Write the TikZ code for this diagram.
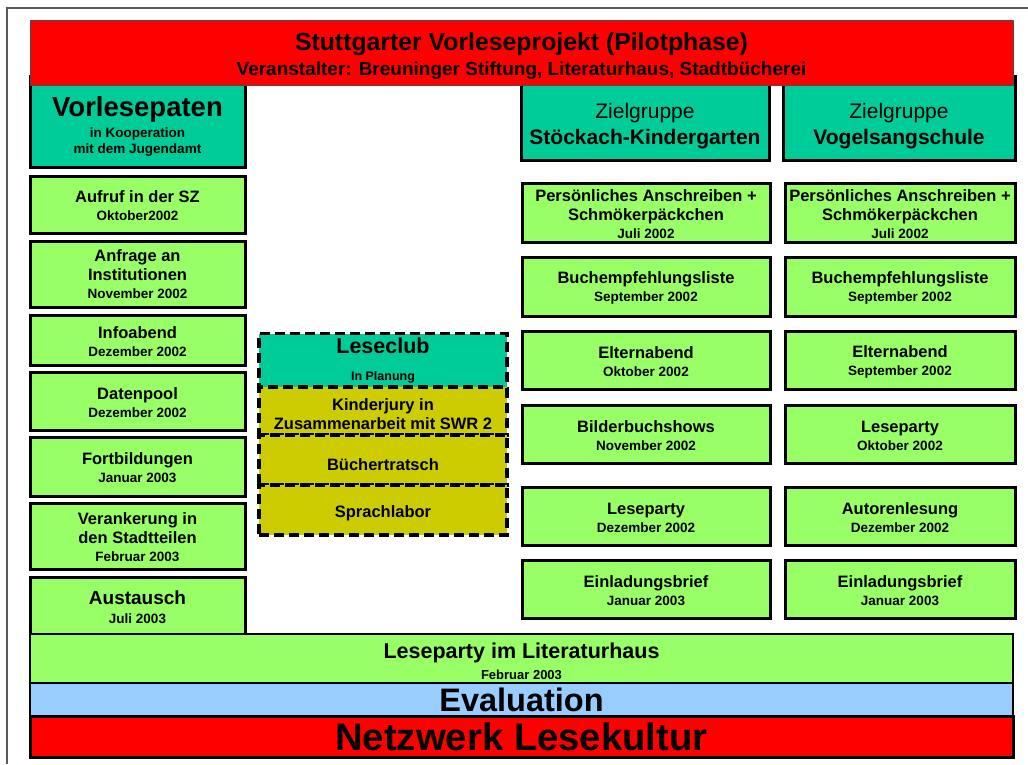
\documentclass[tikz,border=0pt]{standalone}
\usepackage{fontspec}
\setmainfont{Liberation Sans}
\definecolor{lgreen}{HTML}{99FF66}
\definecolor{tealc}{HTML}{00CC99}
\definecolor{olivec}{HTML}{CCCC00}
\definecolor{lblue}{HTML}{99CCFF}
\definecolor{redc}{HTML}{FF0000}
\newcommand\dd[1]{{\fontsize{13.5}{16}\selectfont #1}}
\newcommand\tstrut[1][15pt]{\rule{0pt}{#1}}
\tikzset{
  basebox/.style={draw=black, line width=3pt, inner sep=0pt, align=center,
    font=\bfseries\fontsize{16.5}{19}\selectfont},
  gbox/.style={basebox, fill=lgreen},
  tbox/.style={basebox, fill=tealc},
  dbox/.style={basebox, line width=3.8pt, dash pattern=on 10pt off 5pt},
  bar/.style={draw=black, line width=2pt, inner sep=0pt, align=center, font=\bfseries,
    minimum width=983pt},
  lcol/.style={gbox, minimum width=215pt},
  rcolA/.style={gbox, minimum width=248pt, minimum height=59pt},
  rcolB/.style={gbox, minimum width=230pt, minimum height=59pt},
}
\begin{document}
\begin{tikzpicture}[x=1pt,y=-1pt]
\useasboundingbox (0,0) rectangle (1028,764);
% page border
\coordinate (pgA) at (7,764);
\coordinate (pgB) at (7,8);
\coordinate (pgC) at (1030,8);
\draw[gray!70!black, line width=1.3pt] (pgA) -- (pgB) -- (pgC);

% header boxes (behind title)
\node[tbox, minimum width=215pt, minimum height=91pt] (vp) at (137.5,121.5) {};
\node[align=center, font=\bfseries\fontsize{13.5}{16}\selectfont] (vpt) at (137.5,126.5)
  {{\fontsize{27.5}{27}\selectfont Vorlesepaten}\\[5pt]in Kooperation\\mit dem Jugendamt};
\node[tbox, minimum width=248pt, minimum height=84pt] (zg1) at (645,118) {};
\node[align=center, font=\fontsize{21}{26}\selectfont] (zg1t) at (645,126)
  {Zielgruppe\\\textbf{Stöckach-Kindergarten}};
\node[tbox, minimum width=232pt, minimum height=84pt] (zg2) at (899,118) {};
\node[align=center, font=\fontsize{21}{26}\selectfont] (zg2t) at (899,126)
  {Zielgruppe\\\textbf{Vogelsangschule}};

% title
\node[draw=gray!60!black, line width=0.8pt, fill=redc, minimum width=983pt, minimum height=65pt,
  inner sep=0pt] (title) at (521.5,52.5) {};
\node[align=center, font=\bfseries\fontsize{19}{21}\selectfont] (titlet) at (521.5,56)
  {{\fontsize{24.8}{24}\selectfont Stuttgarter Vorleseprojekt (Pilotphase)}\\[4pt]
   Veranstalter: Breuninger Stiftung, Literaturhaus, Stadtbücherei};

% left column
\node[lcol, minimum height=57pt] (aufruf) at (137.5,204.5) {\tstrut Aufruf in der SZ\\[-1pt]\dd{Oktober2002}};
\node[lcol, minimum height=66pt] (anfrage) at (137.5,274) {Anfrage an\\Institutionen\\[-1pt]\dd{November 2002}};
\node[lcol, minimum height=50pt] (info) at (137.5,340) {\tstrut Infoabend\\[-1pt]\dd{Dezember 2002}};
\node[lcol, minimum height=58pt] (daten) at (137.5,401) {\tstrut Datenpool\\[-1pt]\dd{Dezember 2002}};
\node[lcol, minimum height=59pt] (fort) at (137.5,466.5) {\tstrut Fortbildungen\\[-1pt]\dd{Januar 2003}};
\node[lcol, minimum height=66pt] (veran) at (137.5,536) {\tstrut[13.5pt]Verankerung in\\den Stadtteilen\\[-1pt]\dd{Februar 2003}};
\node[lcol, minimum height=60pt] (aust) at (137.5,607) {{\fontsize{19}{19}\selectfont Austausch}\\\dd{Juli 2003}};

% middle column (dashed)
\node[dbox, fill=tealc, minimum width=248pt, minimum height=55pt] (club) at (383,361)
  {{\fontsize{21.5}{21.5}\selectfont Leseclub}\\[8pt]{\fontsize{12.5}{14}\selectfont In Planung}};
\node[dbox, fill=olivec, minimum width=248pt, minimum height=48pt] (jury) at (383,411)
  {\tstrut[18pt]Kinderjury in\\Zusammenarbeit mit SWR 2};
\node[dbox, fill=olivec, minimum width=248pt, minimum height=50pt] (tratsch) at (383,460)
  {\tstrut[20.5pt]Büchertratsch};
\node[dbox, fill=olivec, minimum width=248pt, minimum height=50pt] (sprach) at (383,510)
  {\tstrut[18pt]Sprachlabor};

% right column A
\node[rcolA] (a1) at (646,212.5) {\tstrut Persönliches Anschreiben +\\Schmökerpäckchen\\[-1pt]\dd{Juli 2002}};
\node[rcolA] (a2) at (646,286.5) {\tstrut Buchempfehlungsliste\\[-1pt]\dd{September 2002}};
\node[rcolA, minimum height=58pt] (a3) at (646,360) {\tstrut Elternabend\\[-1pt]\dd{Oktober 2002}};
\node[rcolA, minimum height=58pt] (a4) at (646,434) {\tstrut Bilderbuchshows\\[-1pt]\dd{November 2002}};
\node[rcolA, minimum height=58pt] (a5) at (646,516) {\tstrut Leseparty\\[-1pt]\dd{Dezember 2002}};
\node[rcolA, minimum height=58pt] (a6) at (646,589) {\tstrut[16pt]Einladungsbrief\\[-1pt]\dd{Januar 2003}};

% right column B
\node[rcolB] (b1) at (900,212.5) {\tstrut Persönliches Anschreiben +\\Schmökerpäckchen\\[-1pt]\dd{Juli 2002}};
\node[rcolB] (b2) at (900,286.5) {\tstrut Buchempfehlungsliste\\[-1pt]\dd{September 2002}};
\node[rcolB, minimum height=58pt] (b3) at (900,360) {\tstrut Elternabend\\[-1pt]\dd{September 2002}};
\node[rcolB, minimum height=58pt] (b4) at (900,434) {\tstrut Leseparty\\[-1pt]\dd{Oktober 2002}};
\node[rcolB, minimum height=58pt] (b5) at (900,516) {\tstrut Autorenlesung\\[-1pt]\dd{Dezember 2002}};
\node[rcolB, minimum height=58pt] (b6) at (900,589) {\tstrut[16pt]Einladungsbrief\\[-1pt]\dd{Januar 2003}};

% bottom bars
\node[bar, fill=lgreen, line width=2.5pt, minimum height=49pt] (lp) at (521.5,658.5) {};
\node[align=center, font=\bfseries\fontsize{21.5}{22}\selectfont] (lpt) at (521.5,661)
  {Leseparty im Literaturhaus\\[-1pt]{\fontsize{13}{15}\selectfont Februar 2003}};
\node[bar, fill=lblue, minimum height=33pt, font=\bfseries\fontsize{32.5}{31}\selectfont] (eval) at (521.5,699.5) {Evaluation};
\node[bar, fill=redc, line width=3pt, minimum height=41pt, font=\bfseries\fontsize{38.3}{38}\selectfont] (netz) at (521.5,737) {Netzwerk Lesekultur};
\end{tikzpicture}
\end{document}
